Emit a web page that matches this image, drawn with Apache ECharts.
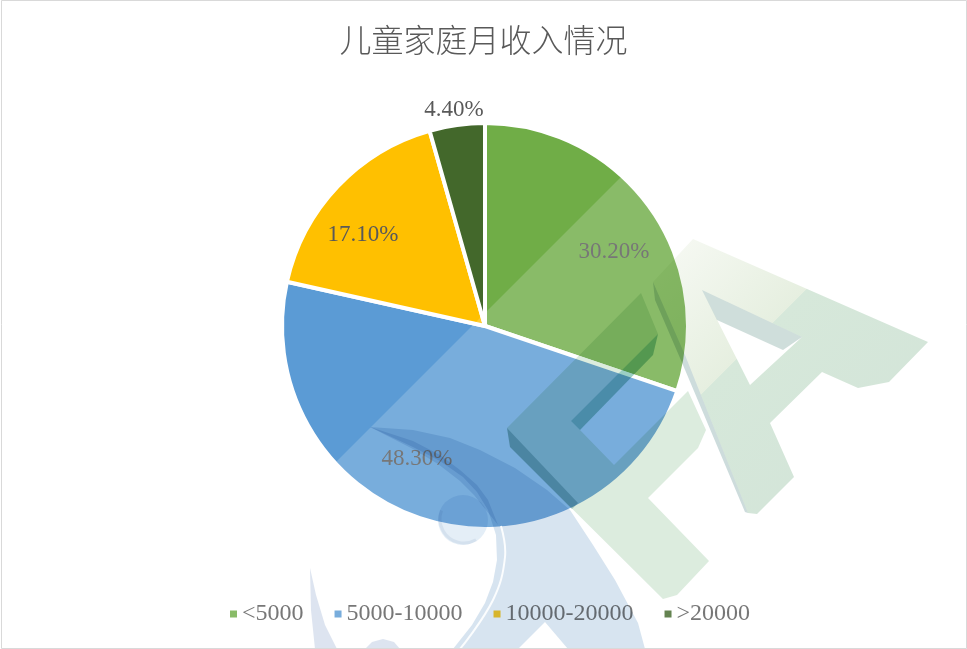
<!DOCTYPE html>
<html>
<head>
<meta charset="utf-8">
<title>儿童家庭月收入情况</title>
<script src="https://cdn.jsdelivr.net/npm/echarts@6/dist/echarts.min.js"></script>
<style>
  html, body { margin: 0; padding: 0; background: #fff; }
  #chart { width: 967px; height: 649px; }
</style>
</head>
<body>
<div id="chart"></div>
<script>
var categories = ['<5000', '5000-10000', '10000-20000', '>20000'];
var shares = [30.2, 48.3, 17.1, 4.4];
var shareLabels = ['30.20%', '48.30%', '17.10%', '4.40%'];
var sliceColors = ['#70ad47', '#5b9bd5', '#ffc000', '#43682b'];

// 百分比标签的位置 (Excel 的最佳匹配摆放)
var labelSpots = [[614, 252], [417, 459], [363, 235], [454, 110]];

var serifFont = '"Liberation Serif", serif';

// 水印: 半透明白色斜带 + 图形, 盖在图表上面
var markA = [[693, 239], [928, 342], [889, 382], [858, 388], [822, 372], [770, 423], [794, 477], [757, 514], [748, 513],
  [685, 355], [653, 282], [693, 239], [702, 290], [750, 385], [802, 337], [702, 290]];
var markAShade = [[702, 290], [802, 337], [783, 350], [717, 320]];
var markAStrip = [[653, 282], [685, 355], [748, 513], [745, 512], [683, 365], [655, 300]];
var markC = [[641, 293], [658, 334], [571, 421], [580, 430], [614, 465], [688, 391], [706, 430], [698, 448], [648, 498],
  [709, 561], [677, 595], [663, 599], [510, 447], [507, 428]];
var markCEdge = [[507, 428], [510, 447], [572, 509], [578, 503]];
var markCInner = [[658, 334], [653, 355], [580, 430], [571, 421]];
var swoosh = [[370, 427], [413, 430], [450, 438], [480, 450], [515, 468], [547, 490], [570, 510], [593, 545], [615, 580],
  [638, 623], [645, 649], [568, 649], [545, 622], [518, 649], [453, 649], [472, 625], [485, 603], [493, 582], [497, 560],
  [496, 535], [488, 510], [477, 492], [463, 477], [440, 461], [413, 447]];
var swooshDark = [[370, 427], [413, 441], [440, 455], [460, 470], [477, 485], [488, 500], [498, 525], [486, 510], [474, 495],
  [460, 481], [438, 464], [413, 449]];
var swooshLine = [[501, 526], [505, 557], [493, 600], [460, 649]];
var swooshTail = [[310, 568], [316, 595], [325, 625], [337, 649], [315, 649], [311, 610]];
var swooshFoot = [[365, 649], [372, 642], [383, 639], [394, 642], [400, 649]];

function mark(points, fill) {
  return {
    type: 'polygon',
    z: 11,
    silent: true,
    shape: { points: points },
    style: { fill: fill, blend: 'multiply' }
  };
}

var chart = echarts.init(document.getElementById('chart'));

var option = {
  backgroundColor: '#fff',
  animation: false,
  title: {
    text: '儿童家庭月收入情况',
    left: 'center',
    top: 19,
    textStyle: {
      color: '#595959',
      fontSize: 32,
      fontWeight: 300,
      fontFamily: '"Noto Sans CJK SC"'
    }
  },
  legend: {
    data: categories,
    left: 225,
    top: 597,
    icon: 'rect',
    itemWidth: 7,
    itemHeight: 7,
    itemGap: 31,
    itemStyle: { borderWidth: 0 },
    textStyle: {
      color: '#595959',
      fontSize: 24,
      fontFamily: serifFont
    }
  },
  series: [
    {
      type: 'pie',
      center: [485, 326],
      radius: [0, 203],
      startAngle: 90,
      clockwise: true,
      data: categories.map(function (name, i) {
        return { name: name, value: shares[i], itemStyle: { color: sliceColors[i] } };
      }),
      itemStyle: { borderColor: '#fff', borderWidth: 4 },
      label: {
        show: true,
        position: 'inside',
        color: '#595959',
        fontSize: 23,
        fontFamily: serifFont,
        formatter: function (p) { return shareLabels[p.dataIndex]; }
      },
      labelLine: { show: false },
      labelLayout: function (p) {
        return { x: labelSpots[p.dataIndex][0], y: labelSpots[p.dataIndex][1], align: 'center', verticalAlign: 'middle' };
      }
    }
  ],
  graphic: {
    elements: [
      {
        type: 'polygon',
        z: 10,
        silent: true,
        shape: { points: [[798, 0], [967, 0], [967, 649], [149, 649]] },
        style: { fill: 'rgba(255,255,255,0.18)' }
      },
      mark(swoosh, '#d7e4f0'),
      mark(swooshDark, '#dbe6f2'),
      mark(swooshTail, '#dde4f0'),
      mark(swooshFoot, '#dde4f0'),
      {
        type: 'circle',
        z: 11,
        silent: true,
        shape: { cx: 463, cy: 520, r: 25 },
        style: { fill: '#e4eef7', blend: 'multiply' }
      },
      {
        type: 'arc',
        z: 11,
        silent: true,
        shape: { cx: 464, cy: 519, r: 24, startAngle: 1.05, endAngle: 3.5 },
        style: { fill: 'none', stroke: '#eef1f6', lineWidth: 3, blend: 'multiply' }
      },
      {
        type: 'polyline',
        z: 12,
        silent: true,
        shape: { points: swooshLine, smooth: 0.4 },
        style: { fill: 'none', stroke: 'rgba(255,255,255,0.9)', lineWidth: 2 }
      },
      mark(markA, {
        type: 'linear', x: 0, y: 0, x2: 1, y2: 1,
        colorStops: [
          { offset: 0, color: '#f8faf5' },
          { offset: 0.37, color: '#e6efe0' },
          { offset: 0.371, color: '#d6e8da' },
          { offset: 1, color: '#d2e3d8' }
        ]
      }),
      mark(markAShade, '#cfdedb'),
      mark(markAStrip, '#cddcdc'),
      mark(markC, '#dcecde'),
      mark(markCEdge, '#b8d4d8'),
      mark(markCInner, '#9ccfc4'),
      {
        type: 'rect',
        z: 12,
        silent: true,
        shape: { x: 1.5, y: 0.5, width: 965, height: 648 },
        style: { fill: 'none', stroke: '#d9d9d9', lineWidth: 1 }
      }
    ]
  }
};

chart.setOption(option);
window.addEventListener('resize', function () {
  chart.resize();
});
</script>
</body>
</html>
